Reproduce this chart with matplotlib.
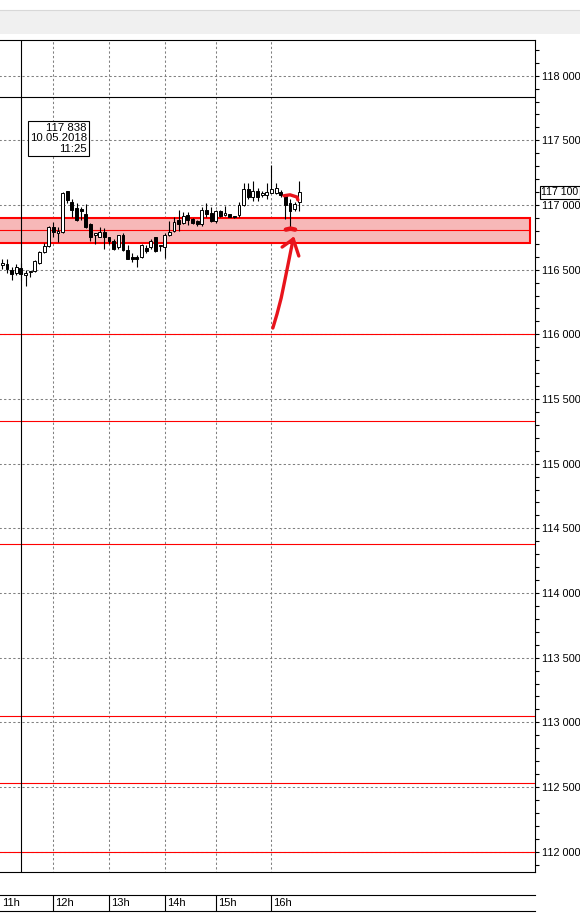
import matplotlib
matplotlib.use("Agg")
import matplotlib.pyplot as plt
import numpy as np
import matplotlib.ticker as mticker
from matplotlib.patches import Rectangle
from matplotlib.lines import Line2D

# ---------------- data ----------------
open_ = [116538,116544,116497,116472,116515, 116456,116482,116492,116554,116637,
         116683,116828,116781,116791,117106, 117023,116977,116969,116930,116853,
         116766,116755,116791,116750,116724, 116678,116766,116652,116600,116600,
         116596,116668,116673,116750,116683, 116678,116766,116797,116884,116863,
         116920,116889,116874,116853,116961, 116936,116879,116956,116920,116930,
         116912,116925,116998,117121,117060, 117106,117075,117075,117095,117095,
         117101,117075,117018,116967,117023]
high = [116582,116580,116523,116544,116552, 116497,116490,116575,116647,116706,
        116838,116869,116828,117101,117111, 117049,117013,116982,117008,116860,
        116786,116832,116822,116755,116739, 116770,116781,116688,116627,116616,
        116698,116688,116739,116754,116691, 116781,116879,116910,116961,116946,
        116946,116899,116884,116982,117018, 116982,116961,116961,116992,116933,
        116915,117023,117168,117168,117188, 117131,117108,117168,117307,117168,
        117116,117078,117049,117023,117188]
low = [116505,116474,116420,116459,116420, 116374,116443,116482,116544,116629,
       116673,116755,116714,116781,117013, 116910,116880,116884,116825,116719,
       116698,116750,116662,116698,116652, 116662,116648,116580,116559,116523,
       116590,116627,116662,116637,116644, 116590,116762,116793,116797,116853,
       116843,116853,116838,116838,116910, 116869,116863,116905,116918,116908,
       116899,116910,116995,117049,117033, 117033,117062,117049,117093,117085,
       117062,116889,116832,116956,116956]
close = [116554,116503,116466,116523,116466, 116477,116484,116567,116637,116683,
         116830,116791,116797,117090,117039, 116961,116884,116954,116832,116755,
         116781,116791,116755,116719,116662, 116766,116652,116585,116580,116580,
         116688,116647,116719,116642,116685, 116766,116791,116869,116853,116915,
         116884,116859,116853,116961,116930, 116879,116951,116915,116936,116910,
         116910,116998,117121,117064,117106, 117064,117095,117101,117126,117131,
         117075,116998,116956,117008,117100]

hour_labels = ["11h", "12h", "13h", "14h", "15h", "16h"]
hour_index = [-1, 11, 23, 35, 46, 58]

price_levels = list(range(112000, 118001, 500))
red_levels = [116000, 115330, 114380, 113048, 112530, 112000]
zone_low, zone_high, zone_mid = 116708, 116902, 116805
cross_index, cross_price = 4, 117838
cross_lines = ["117 838", "10.05.2018", "11:25"]
last_price = 117100

# hand-drawn arrow (bar index, price)
arrow_x = [58.3, 59.2, 60.1, 60.9, 61.6, 62.2, 62.7]
arrow_y = [116049, 116157, 116281, 116420, 116544, 116652, 116737]
head_left = ([60.3, 62.7], [116675, 116737])
head_right = ([63.9, 62.7], [116606, 116737])
blob = ([61.1, 62.1, 63.1], [116810, 116818, 116810])
top_mark = ([60.7, 62.0, 63.5, 63.7], [117072, 117079, 117062, 117039])

# ---------------- figure ----------------
W, H, DPI = 580, 923, 100
fig = plt.figure(figsize=(W / DPI, H / DPI), dpi=DPI)
fig.patch.set_facecolor("white")
FONT = ["Liberation Sans", "DejaVu Sans"]
plt.rcParams["font.family"] = FONT

def fy(py):
    return 1 - py / H

# top grey band
fig.add_artist(Rectangle((0, fy(34)), 1, 24 / H, transform=fig.transFigure,
                         fc="#f0f0f0", ec="none"))
fig.add_artist(Line2D([0, 1], [fy(9.5)] * 2, transform=fig.transFigure,
                      color="#d8d8d8", lw=0.8))

top_px, bot_px, right_px = 40, 872, 535
ax = fig.add_axes([0, fy(bot_px), right_px / W, (bot_px - top_px) / H])
ax.set_xlim(-0.5, 114.8)
ax.set_ylim(111843, 118276)
ax.set_facecolor("white")
ax.spines["left"].set_visible(False)
for s in ["top", "right", "bottom"]:
    ax.spines[s].set_color("black")
    ax.spines[s].set_linewidth(0.8)

dash = (0, (2.2, 2.2))
ax.hlines(price_levels, -5, 120, colors="#808080", lw=0.75, linestyles=[dash], zorder=1)
ax.vlines(hour_index[1:], 100000, 120000, colors="#808080", lw=0.75, linestyles=[dash], zorder=1)

# zone
ax.add_patch(Rectangle((-3, zone_low), 113.7 + 3, zone_high - zone_low,
                       fc="#f7b8b8", ec="#ff0000", lw=1.5, zorder=2))
ax.hlines(zone_mid, -3, 113.7, colors="#ff0000", lw=0.8, zorder=2)

# horizontal levels
ax.hlines(red_levels, -5, 120, colors="#ff0000", lw=0.8, zorder=3)
ax.hlines(cross_price, -5, 120, colors="black", lw=0.8, zorder=3)
ax.vlines(cross_index, 100000, 120000, colors="black", lw=0.8, zorder=3)

# candles
x = np.arange(len(open_))
o = np.array(open_); c = np.array(close)
hi = np.array(high); lo = np.array(low)
up = c >= o
ax.vlines(x, lo, hi, colors="black", lw=0.8, zorder=4)
bottom = np.minimum(o, c)
height = np.maximum(np.abs(c - o), 8)
ax.bar(x, height, bottom=bottom, width=0.62,
       color=np.where(up, "white", "black"), edgecolor="black", lw=0.7, zorder=5)

# red hand drawing
rc = "#e8141c"
kw = dict(color=rc, lw=2.4, solid_capstyle="round", solid_joinstyle="round", zorder=7)
ax.plot(arrow_x, arrow_y, **kw)
ax.plot(*head_left, **kw)
ax.plot(*head_right, **kw)
ax.plot(*blob, color=rc, lw=3.2, solid_capstyle="round", zorder=7)
ax.plot(*top_mark, **kw)

# y axis right
ax.yaxis.tick_right()
ax.yaxis.set_major_locator(mticker.FixedLocator(price_levels))
ax.yaxis.set_minor_locator(mticker.MultipleLocator(100))
ax.yaxis.set_major_formatter(mticker.FuncFormatter(lambda v, _: f"{int(round(v)):,}".replace(",", " ")))
ax.tick_params(axis="y", which="both", length=3, width=0.8, direction="out",
               pad=2, labelsize=7.8, colors="black")
ax.tick_params(axis="x", which="both", bottom=False, labelbottom=False)

# last price box
ax.annotate(f"{last_price:,}".replace(",", " "), xy=(1, last_price),
            xycoords=("axes fraction", "data"), xytext=(4.5, 0), textcoords="offset points",
            ha="left", va="center", fontsize=7.6,
            bbox=dict(boxstyle="square,pad=0.15", fc="white", ec="black", lw=0.8),
            zorder=10, annotation_clip=False)

# crosshair box
ax.annotate("\n".join(cross_lines), xy=(cross_index, cross_price), xycoords="data",
            xytext=(47.5, -19), textcoords="offset points", ha="right", va="top",
            multialignment="right", fontsize=8.2, linespacing=1.05,
            bbox=dict(boxstyle="square,pad=0.15", fc="white", ec="black", lw=0.8), zorder=10)

# time axis
tax = fig.add_axes([0, fy(911), right_px / W, 16 / H])
tax.set_xlim(ax.get_xlim())
tax.set_ylim(0, 1)
for s in ["left", "right"]:
    tax.spines[s].set_visible(False)
for s in ["top", "bottom"]:
    tax.spines[s].set_linewidth(0.8)
tax.set_xticks([]); tax.set_yticks([])
tax.vlines(hour_index, 0, 1, colors="black", lw=0.8)
for hx, lab in zip(hour_index, hour_labels):
    tax.annotate(lab, xy=(max(hx, -0.45), 0.5), xycoords="data", xytext=(1.5, 0),
                 textcoords="offset points", ha="left", va="center", fontsize=8,
                 annotation_clip=False)
tax.patch.set_alpha(0)

fig.savefig("out.png", dpi=DPI)
